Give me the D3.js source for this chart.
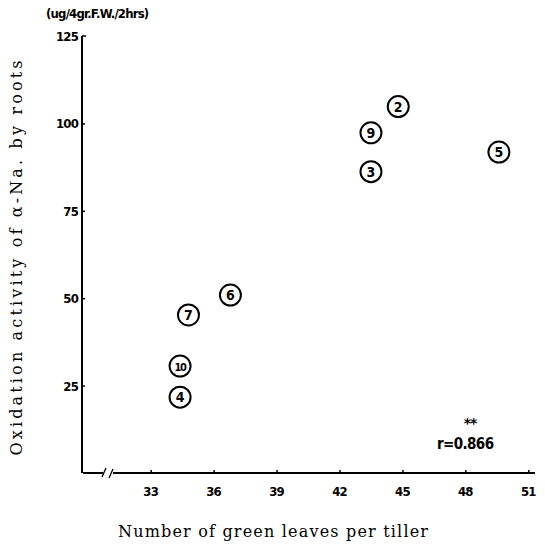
<!DOCTYPE html>
<html><head><meta charset="utf-8">
<script src="https://cdn.jsdelivr.net/npm/d3@7"></script>
<style>body{margin:0;background:#fff}</style>
</head><body>
<script>
const pointLabels = ["2","5","9","3","6","7","10","4"];
const leaves      = [44.8, 49.6, 43.5, 43.5, 36.8, 34.8, 34.4, 34.4];
const oxidation   = [104.8, 91.8, 97.3, 86.2, 50.9, 45.2, 30.6, 21.7];
const xTicks = [33, 36, 39, 42, 45, 48, 51];
const yTicks = [25, 50, 75, 100, 125];

const W = 545, H = 549;
const svg = d3.select("body").append("svg").attr("width", W).attr("height", H);
const x = d3.scaleLinear().domain([33, 51]).range([150.7, 528.3]);
const y = d3.scaleLinear().domain([0, 125]).range([473, 36]);
const axisX0 = 83;
const tickFont = "DejaVu Sans Condensed, DejaVu Sans";

// y axis
svg.append("line").attr("x1", 82).attr("x2", 82).attr("y1", y(125)).attr("y2", 473)
  .attr("stroke", "#000").attr("stroke-width", 2);
svg.append("line").attr("x1", 82).attr("x2", 86).attr("y1", y(125)).attr("y2", y(125))
  .attr("stroke", "#000").attr("stroke-width", 1.5);
const yAxis = d3.axisRight(y).tickValues(yTicks.slice(0, 4)).tickSize(3).tickFormat("");
const gy = svg.append("g").attr("transform", "translate(82,0)").call(yAxis);
gy.select(".domain").remove();
gy.selectAll("line").attr("stroke-width", 1.5);
svg.selectAll(".ytl").data(yTicks).join("text").attr("class", "ytl")
  .attr("x", 78).attr("y", d => y(d) + 5).attr("text-anchor", "end")
  .attr("font-family", tickFont).attr("font-weight", "bold")
  .attr("font-size", 13).attr("letter-spacing", -0.8).text(d => d);

// x axis with break
svg.append("path").attr("d", `M${axisX0},473 L103,473 M113,473 L535,473`)
  .attr("fill", "none").attr("stroke", "#000").attr("stroke-width", 2);
svg.append("path").attr("d", "M102,477 L106,468 M109,478 L113,469")
  .attr("fill", "none").attr("stroke", "#000").attr("stroke-width", 1.3);
const xAxis = d3.axisTop(x).tickValues(xTicks).tickSize(3).tickFormat("");
const gx = svg.append("g").attr("transform", "translate(0,473)").call(xAxis);
gx.select(".domain").remove();
gx.selectAll("line").attr("stroke-width", 1.5);
svg.selectAll(".xtl").data(xTicks).join("text").attr("class", "xtl")
  .attr("x", d => x(d)).attr("y", 496).attr("text-anchor", "middle")
  .attr("font-family", tickFont).attr("font-weight", "bold")
  .attr("font-size", 13).attr("letter-spacing", -0.8).text(d => d);

// axis titles
svg.append("text").attr("x", 273).attr("y", 537).attr("text-anchor", "middle")
  .attr("font-family", "DejaVu Serif, serif").attr("font-size", 16)
  .attr("textLength", 310).text("Number of green leaves per tiller");
svg.append("text").attr("transform", "translate(22,258) rotate(-90)").attr("text-anchor", "middle")
  .attr("font-family", "DejaVu Serif, serif").attr("font-size", 16)
  .attr("textLength", 395).text("Oxidation activity of α-Na. by roots");
svg.append("text").attr("x", 46).attr("y", 18)
  .attr("font-family", tickFont).attr("font-weight", "bold")
  .attr("font-size", 13).attr("letter-spacing", -0.8).text("(ug/4gr.F.W./2hrs)");

// points
const data = pointLabels.map((l, i) => ({l, xv: leaves[i], yv: oxidation[i]}));
const pg = svg.selectAll(".pt").data(data).join("g").attr("class", "pt")
  .attr("transform", d => `translate(${x(d.xv)},${y(d.yv)})`);
pg.append("circle").attr("r", 10.5).attr("fill", "#fff").attr("stroke", "#000").attr("stroke-width", 2);
pg.append("text").attr("y", 5).attr("text-anchor", "middle")
  .attr("font-family", tickFont).attr("font-weight", "bold")
  .attr("font-size", d => d.l.length > 1 ? 11 : 14).attr("letter-spacing", d => d.l.length > 1 ? -1.2 : 0)
  .text(d => d.l);

// correlation annotation
svg.append("text").attr("x", 470).attr("y", 428).attr("text-anchor", "middle")
  .attr("font-family", "DejaVu Sans").attr("font-weight", "bold").attr("font-size", 14)
  .attr("letter-spacing", -1).text("**");
svg.append("text").attr("x", 437).attr("y", 449)
  .attr("font-family", tickFont).attr("font-weight", "bold")
  .attr("font-size", 15).attr("letter-spacing", -0.6).text("r=0.866");
</script>
</body></html>
